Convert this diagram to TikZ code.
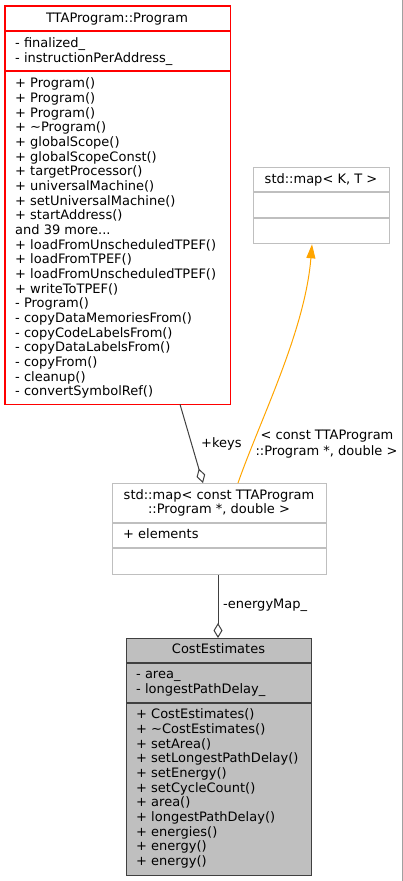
\documentclass[tikz,border=0pt]{standalone}
\usepackage{fontspec}
\setmainfont{DejaVu Sans}
\usetikzlibrary{arrows.meta}
\definecolor{mapgrey}{HTML}{BFBFBF}
\definecolor{edgegrey}{HTML}{404040}
\definecolor{costfill}{HTML}{BFBFBF}
\definecolor{framegrey}{HTML}{A0A0A0}
\definecolor{boxred}{HTML}{FF0000}
\definecolor{inhorange}{HTML}{FFA500}
\newcommand{\fs}{\fontsize{13}{14.67}\selectfont}
\newcommand{\morelabel}{and 39 more.{}.{}.}
\tikzset{
  box/.style={inner sep=0pt, anchor=north west, line width=1.3pt},
  txt/.style={inner sep=0pt, anchor=base west, font=\fs},
  ttl/.style={inner sep=0pt, anchor=base, font=\fs},
  link/.style={draw=edgegrey, line width=1pt},
}
\begin{document}
\begin{tikzpicture}[x=1pt,y=-1pt]
\fill[white] (0,0) rectangle (403,881);
\useasboundingbox (0,0) rectangle (403,881);
\draw[framegrey, line width=1pt] (402.5,0) -- (402.5,881);

% TTAProgram::Program
\node[box, fill=white, minimum width=224pt, minimum height=397pt] (prog) at (5,6) {};
\draw[boxred, line width=1.4pt] (prog.north west) rectangle (prog.south east);
\draw[boxred, line width=1.3pt] (prog.west |- 0,31) -- (prog.east |- 0,31);
\draw[boxred, line width=1.3pt] (prog.west |- 0,71) -- (prog.east |- 0,71);
\node[ttl] (progt) at (117,22.3) {TTAProgram::Program};
\foreach \t [count=\i] in {- finalized\_, - instructionPerAddress\_}
  \node[txt] (proga\i) at (15,{47.7+14.67*(\i-1)}) {\t};
\foreach \t [count=\i] in {+ Program(), + Program(), + Program(), + \textasciitilde Program(),
  + globalScope(), + globalScopeConst(), + targetProcessor(), + universalMachine(),
  + setUniversalMachine(), + startAddress(), \morelabel, + loadFromUnscheduledTPEF(),
  + loadFromTPEF(), + loadFromUnscheduledTPEF(), + writeToTPEF(), - Program(),
  - copyDataMemoriesFrom(), - copyCodeLabelsFrom(), - copyDataLabelsFrom(),
  - copyFrom(), - cleanup(), - convertSymbolRef()}
  \node[txt] (progm\i) at (15,{87.7+14.67*(\i-1)}) {\t};

% std::map< K, T >
\node[box, draw=mapgrey, fill=white, minimum width=136pt, minimum height=76pt] (mapkt) at (253,167) {};
\draw[mapgrey, line width=1.3pt] (mapkt.west |- 0,192) -- (mapkt.east |- 0,192);
\draw[mapgrey, line width=1.3pt] (mapkt.west |- 0,218) -- (mapkt.east |- 0,218);
\node[ttl] (mapktt) at (321,183.7) {std::map< K, T >};

% std::map< const TTAProgram::Program *, double >
\node[box, draw=mapgrey, fill=white, minimum width=214pt, minimum height=91pt] (mapp) at (112,483) {};
\draw[mapgrey, line width=1.3pt] (mapp.west |- 0,523) -- (mapp.east |- 0,523);
\draw[mapgrey, line width=1.3pt] (mapp.west |- 0,548) -- (mapp.east |- 0,548);
\node[ttl] (mappt1) at (219,499.7) {std::map< const TTAProgram};
\node[ttl] (mappt2) at (219,513.9) {::Program *, double >};
\node[txt] (mappa1) at (123,538.7) {+ elements};

% CostEstimates
\node[box, draw=edgegrey, fill=costfill, minimum width=185pt, minimum height=237pt] (cost) at (126,638) {};
\draw[edgegrey, line width=1.3pt] (cost.west |- 0,663) -- (cost.east |- 0,663);
\draw[edgegrey, line width=1.3pt] (cost.west |- 0,703) -- (cost.east |- 0,703);
\node[ttl] (costt) at (218.5,653.7) {CostEstimates};
\foreach \t [count=\i] in {- area\_, - longestPathDelay\_}
  \node[txt] (costa\i) at (136,{678.7+14.67*(\i-1)}) {\t};
\foreach \t [count=\i] in {+ CostEstimates(), + \textasciitilde CostEstimates(), + setArea(),
  + setLongestPathDelay(), + setEnergy(), + setCycleCount(), + area(),
  + longestPathDelay(), + energies(), + energy(), + energy()}
  \node[txt] (costm\i) at (136,{718.7+14.67*(\i-1)}) {\t};

% connectors
\draw[link, -{Diamond[open, length=15pt, width=9pt]}]
  ([xshift=175pt]prog.south west) -- ([xshift=91pt]mapp.north west);
\node[txt] (lkeys) at (201,447.7) {+keys};

\draw[draw=inhorange, line width=1pt, -{Triangle[length=14pt, width=9pt, fill=inhorange]}]
  ([xshift=126pt]mapp.north west) .. controls +(22,-63) and +(-7,87) .. ([xshift=59pt]mapkt.south west);
\node[ttl] (lmap1) at (327,439.7) {< const TTAProgram};
\node[ttl] (lmap2) at (326.5,455.7) {::Program *, double >};

\draw[link, -{Diamond[open, length=15pt, width=9pt]}]
  ([xshift=106pt]mapp.south west) -- ([xshift=92pt]cost.north west);
\node[txt] (lenergy) at (223,608.7) {-energyMap\_};
\end{tikzpicture}
\end{document}
